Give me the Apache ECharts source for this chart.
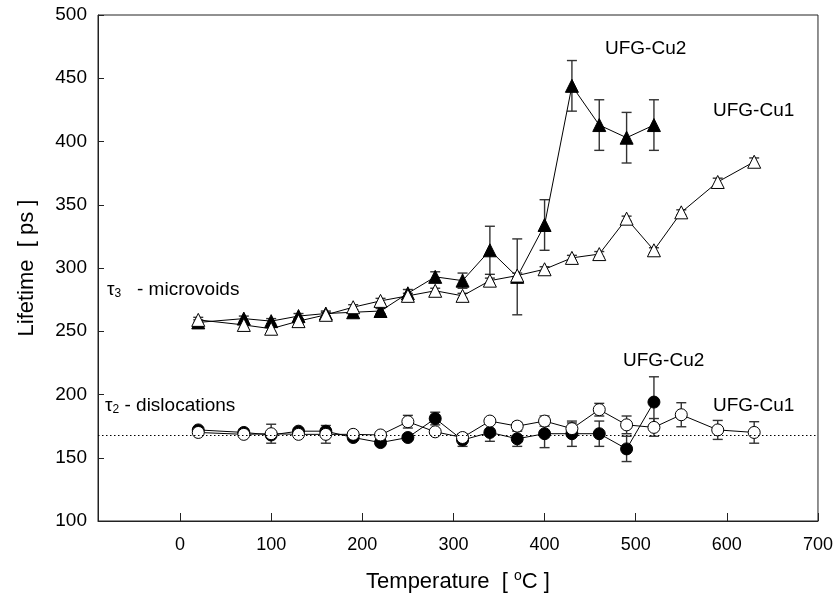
<!DOCTYPE html>
<html><head><meta charset="utf-8">
<script src="https://cdn.jsdelivr.net/npm/echarts@6/dist/echarts.min.js"></script>
<style>html,body{margin:0;padding:0;background:#fff}#c{width:836px;height:600px}</style>
</head><body><div id="c"></div>
<script>
// ---- data ----
const tempsCu1 = [20,70,100,130,160,190,220,250,280,310,340,370,400,430,460,490,520,550,590,630];
const tempsCu2 = [20,70,100,130,160,190,220,250,280,310,340,370,400,430,460,490,520];
const tau3Cu1 = [259,255,252,258,263,269,274,278,282,278,290,294,299,308,311,339,314,344,368,384];
const tau3Cu1Err = [2,2,2,2,2,2,2,2,2,2,2,2,2,2,2,2,2,2,3,3];
const tau3Cu2 = [257,260,258,262,264,265,266,280,293,290,314,293,334,444,413,403,413];
const tau3Cu2Err = [2,2,2,2,2,2,2,3,4,6,19,30,20,20,20,20,20];
const tau2Cu1 = [170,168.5,169,168.5,168.5,168.5,168,178.5,170.5,166,179,175,179,173,188,176,174,184,172,170];
const tau2Cu1Err = [2,2,7.5,2,7,2,2,5,2,3,2,3,4,4.5,5,7,7,9.5,7.5,8.5];
const tau2Cu2 = [172,170,168,171,171,166,162,166,181,164,170,165,169,169,169,157,194];
const tau2Cu2Err = [2,2,2,2,2,2,2,2,5,5,7,6,11,10,10,10,20];
const refLine = 168;
const xTicks = [0,100,200,300,400,500,600,700];
const xMin = -90, xMax = 700;
const yMin = 100, yMax = 500, yStep = 50;

// ---- build ----
const pairs = (xs, ys) => xs.map((x, i) => [x, ys[i]]);
const errs = (xs, ys, es) => xs.map((x, i) => [x, ys[i] - es[i], ys[i] + es[i]]);
const errData = [].concat(
  errs(tempsCu1, tau3Cu1, tau3Cu1Err),
  errs(tempsCu2, tau3Cu2, tau3Cu2Err),
  errs(tempsCu1, tau2Cu1, tau2Cu1Err),
  errs(tempsCu2, tau2Cu2, tau2Cu2Err)
);

const FONT = 'Liberation Sans, Arial, sans-serif';
const chart = echarts.init(document.getElementById('c'), null, {renderer: 'canvas'});

function lineSeries(name, data, symbol, filled, extra) {
  return Object.assign({
    name, type: 'line', data, symbol, symbolSize: symbol === 'triangle' ? 13 : 12,
    showAllSymbol: true, animation: false, z: 3,
    lineStyle: {color: '#000', width: 1},
    itemStyle: {color: filled ? '#000' : '#fff', borderColor: '#000', borderWidth: 1, opacity: 1},
    emphasis: {disabled: true}
  }, extra || {});
}

const annText = (t) => ({t: {fontSize: 19, fontFamily: FONT, fill: '#000'}, s: {fontSize: 12, fontFamily: FONT, padding: [9,0,0,0], fill: '#000'}});

const option = {
  animation: false,
  backgroundColor: '#fff',
  grid: {left: 98, right: 17, top: 15, bottom: 79, show: true, borderColor: '#222', borderWidth: 1, backgroundColor: 'transparent'},
  xAxis: {
    type: 'value', min: xMin, max: xMax,
    name: 'Temperature  [ {sup|o}C ]', nameLocation: 'middle', nameGap: 48,
    nameTextStyle: {fontFamily: FONT, fontSize: 22, color: '#000',
      rich: {sup: {fontSize: 14, verticalAlign: 'top', padding: [0,0,11,0], fontFamily: FONT, color: '#000'}}},
    axisLine: {show: true, onZero: false, lineStyle: {color: '#222', width: 1}},
    axisTick: {show: true, inside: true, length: 8, customValues: xTicks, lineStyle: {color: '#222'}},
    axisLabel: {customValues: xTicks, color: '#000', fontFamily: FONT, fontSize: 18, margin: 15},
    splitLine: {show: false}
  },
  yAxis: {
    type: 'value', min: yMin, max: yMax, interval: yStep,
    name: 'Lifetime  [ ps ]', nameLocation: 'middle', nameGap: 60, nameRotate: 90,
    nameTextStyle: {fontFamily: FONT, fontSize: 22, color: '#000'},
    axisLine: {show: true, onZero: false, lineStyle: {color: '#222', width: 1}},
    axisTick: {show: true, inside: true, length: 6, lineStyle: {color: '#222'}},
    axisLabel: {color: '#000', fontFamily: FONT, fontSize: 19, margin: 11},
    splitLine: {show: false}
  },
  series: [
    {
      type: 'custom', name: 'err', data: errData, z: 2, animation: false, silent: true,
      encode: {x: 0, y: [1, 2]},
      renderItem: function (params, api) {
        const x = api.value(0), lo = api.value(1), hi = api.value(2);
        const t = api.coord([x, hi]), b = api.coord([x, lo]);
        const w = 5, st = {stroke: '#333', lineWidth: 1.4};
        return {type: 'group', children: [
          {type: 'line', shape: {x1: t[0], y1: t[1], x2: b[0], y2: b[1]}, style: st},
          {type: 'line', shape: {x1: t[0] - w, y1: t[1], x2: t[0] + w, y2: t[1]}, style: st},
          {type: 'line', shape: {x1: b[0] - w, y1: b[1], x2: b[0] + w, y2: b[1]}, style: st}
        ]};
      }
    },
    lineSeries('tau3 UFG-Cu2', pairs(tempsCu2, tau3Cu2), 'triangle', true),
    lineSeries('tau3 UFG-Cu1', pairs(tempsCu1, tau3Cu1), 'triangle', false),
    lineSeries('tau2 UFG-Cu2', pairs(tempsCu2, tau2Cu2), 'circle', true, {
      markLine: {silent: true, symbol: ['none', 'none'], label: {show: false},
        lineStyle: {color: '#000', type: [1.5, 2.5], width: 1}, data: [{yAxis: refLine}], animation: false}
    }),
    lineSeries('tau2 UFG-Cu1', pairs(tempsCu1, tau2Cu1), 'circle', false)
  ],
  graphic: [
    {type: 'text', left: 605, top: 39, style: {text: 'UFG-Cu2', font: '19px ' + FONT, fill: '#000'}},
    {type: 'text', left: 713, top: 101, style: {text: 'UFG-Cu1', font: '19px ' + FONT, fill: '#000'}},
    {type: 'text', left: 107, top: 280, style: {text: '{t|τ}{s|3}{t|   - microvoids}', fill: '#000', rich: annText()}},
    {type: 'text', left: 623, top: 351, style: {text: 'UFG-Cu2', font: '19px ' + FONT, fill: '#000'}},
    {type: 'text', left: 713, top: 396, style: {text: 'UFG-Cu1', font: '19px ' + FONT, fill: '#000'}},
    {type: 'text', left: 105, top: 396, style: {text: '{t|τ}{s|2}{t| - dislocations}', fill: '#000', rich: annText()}}
  ]
};
chart.setOption(option);
</script>
</body></html>
